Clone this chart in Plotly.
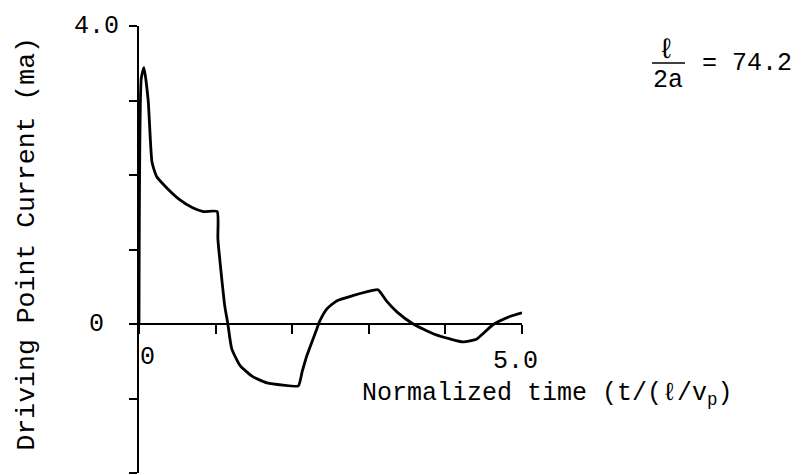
import plotly.graph_objects as go

# Data
t_vals = [0.0, 0.03, 0.065, 0.12, 0.17, 0.23, 0.36, 0.53, 0.70, 0.84, 1.02, 1.03, 1.12, 1.16,
          1.21, 1.32, 1.49, 1.67, 1.88, 2.08, 2.13, 2.19, 2.32, 2.36, 2.45, 2.58, 2.79,
          2.97, 3.12, 3.23, 3.37, 3.58, 3.84, 4.06, 4.23, 4.41, 4.62, 4.84, 5.0]
i_vals = [0.0, 3.3, 3.44, 3.0, 2.17, 1.98, 1.83, 1.67, 1.56, 1.51, 1.51, 1.14, 0.24, 0.0,
          -0.33, -0.56, -0.71, -0.79, -0.82, -0.83, -0.64, -0.43, -0.07, 0.04, 0.2, 0.31, 0.38,
          0.43, 0.46, 0.31, 0.16, 0.0, -0.13, -0.2, -0.24, -0.2, -0.01, 0.1, 0.15]

x_ticks = [0, 1, 2, 3, 4, 5]
y_ticks = [-2, -1, 0, 1, 2, 3, 4]

FONT = "Liberation Mono, Courier New, monospace"
FS = 25

fig = go.Figure()
fig.add_trace(go.Scatter(x=t_vals, y=i_vals, mode="lines",
                         line=dict(color="black", width=2.8, shape="spline", smoothing=0.5),
                         hoverinfo="skip", showlegend=False))

fig.update_layout(
    width=804, height=475,
    margin=dict(l=139, r=282, t=26, b=2),
    paper_bgcolor="white", plot_bgcolor="white",
    font=dict(family=FONT, size=FS, color="black"),
    xaxis=dict(range=[0, 5], tickvals=x_ticks, showticklabels=False,
               ticks="outside", ticklen=9, tickwidth=1.5, tickcolor="black",
               showgrid=False, zeroline=False, showline=True, linecolor="black", linewidth=2,
               anchor="free", position=1/3, fixedrange=True),
    yaxis=dict(range=[-2, 4], tickvals=y_ticks, showticklabels=False,
               ticks="outside", ticklen=8, tickwidth=1.5, tickcolor="black",
               showgrid=False, zeroline=False, showline=True, linecolor="black", linewidth=2,
               fixedrange=True),
)

# tick labels
fig.add_annotation(x=0, y=4, xref="x", yref="y", text="4.0", showarrow=False,
                   xanchor="right", yanchor="middle", xshift=-18)
fig.add_annotation(x=0, y=0, xref="x", yref="y", text="0", showarrow=False,
                   xanchor="center", yanchor="middle", xshift=-43)
fig.add_annotation(x=0, y=0, xref="x", yref="y", text="0", showarrow=False,
                   xanchor="center", yanchor="middle", xshift=8, yshift=-33)
fig.add_annotation(x=5, y=0, xref="x", yref="y", text="5.0", showarrow=False,
                   xanchor="center", yanchor="middle", xshift=-7, yshift=-37)
# axis titles
fig.add_annotation(x=0, y=0, xref="x", yref="y", text="Normalized time (t/(ℓ/v<sub>p</sub>)",
                   showarrow=False, xanchor="left", yanchor="middle", xshift=221, yshift=-70)
fig.add_annotation(x=0, y=0.5, xref="paper", yref="paper", text="Driving Point Current (ma)",
                   textangle=-90, showarrow=False, xanchor="center", yanchor="middle",
                   xshift=-113, yshift=5, font=dict(size=26.5))
# fraction annotation
fig.add_annotation(x=5, y=4, xref="x", yref="y", text="ℓ", showarrow=False,
                   xanchor="center", yanchor="middle", xshift=144, yshift=-24,
                   font=dict(size=28))
fig.add_annotation(x=5, y=4, xref="x", yref="y", text="2a", showarrow=False,
                   xanchor="center", yanchor="middle", xshift=146, yshift=-54)
fig.add_annotation(x=5, y=4, xref="x", yref="y", text="= 74.2", showarrow=False,
                   xanchor="left", yanchor="middle", xshift=178, yshift=-37)

# fraction bar (paper coordinates so it is not clipped to the plot area)
px0, px1, py = 652, 685, 63
fig.add_shape(type="line", xref="paper", yref="paper",
              x0=(px0 - 139) / 383, x1=(px1 - 139) / 383,
              y0=(473 - py) / 447, y1=(473 - py) / 447,
              line=dict(color="black", width=1.5))

fig.write_html("out.html")
